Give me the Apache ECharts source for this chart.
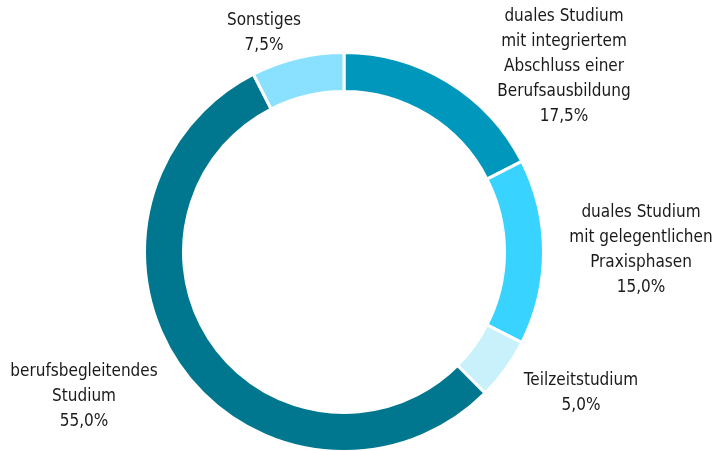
<!DOCTYPE html>
<html>
<head>
<meta charset="utf-8">
<script src="https://cdn.jsdelivr.net/npm/echarts@6/dist/echarts.min.js"></script>
<style>
  html, body { margin: 0; padding: 0; background: #fff; }
  #chart { width: 717px; height: 451px; }
</style>
</head>
<body>
<div id="chart"></div>
<script>
// Studienformen, Anteile in %
const names = [
  'duales Studium\nmit integriertem\nAbschluss einer\nBerufsausbildung',
  'duales Studium\nmit gelegentlichen\nPraxisphasen',
  'Teilzeitstudium',
  'berufsbegleitendes\nStudium',
  'Sonstiges'
]
const shares = [17.5, 15.0, 5.0, 55.0, 7.5]
const colors = ['#0097bd', '#38d3ff', '#c8f1fc', '#00778f', '#8ae1ff']

// Mittelpunkt der Beschriftungen (Layout, keine Daten)
const labelSpots = [
  [564, 67],
  [641, 250],
  [581, 393],
  [84, 397],
  [264, 33]
]

const chart = echarts.init(document.getElementById('chart'))

const option = {
  animation: false,
  series: [{
    type: 'pie',
    center: [344, 252],
    radius: [160.5, 199.5],
    startAngle: 90,
    clockwise: true,
    avoidLabelOverlap: false,
    itemStyle: {
      borderColor: '#fff',
      borderWidth: 3
    },
    label: {
      show: true,
      position: 'outside',
      fontFamily: '"DejaVu Sans Condensed", "Liberation Sans Narrow", sans-serif',
      fontSize: 17,
      lineHeight: 25,
      color: '#1a1a1a',
      align: 'center',
      formatter: function(p) {
        return p.name + '\n' + p.value.toFixed(1).replace('.', ',') + '%'
      }
    },
    labelLine: { show: false },
    labelLayout: function(params) {
      const spot = labelSpots[params.dataIndex]
      return {
        x: spot[0],
        y: spot[1],
        align: 'center',
        verticalAlign: 'middle'
      }
    },
    data: names.map((n, i) => ({
      name: n,
      value: shares[i],
      itemStyle: { color: colors[i] }
    }))
  }]
}
chart.setOption(option)
</script>
</body>
</html>
